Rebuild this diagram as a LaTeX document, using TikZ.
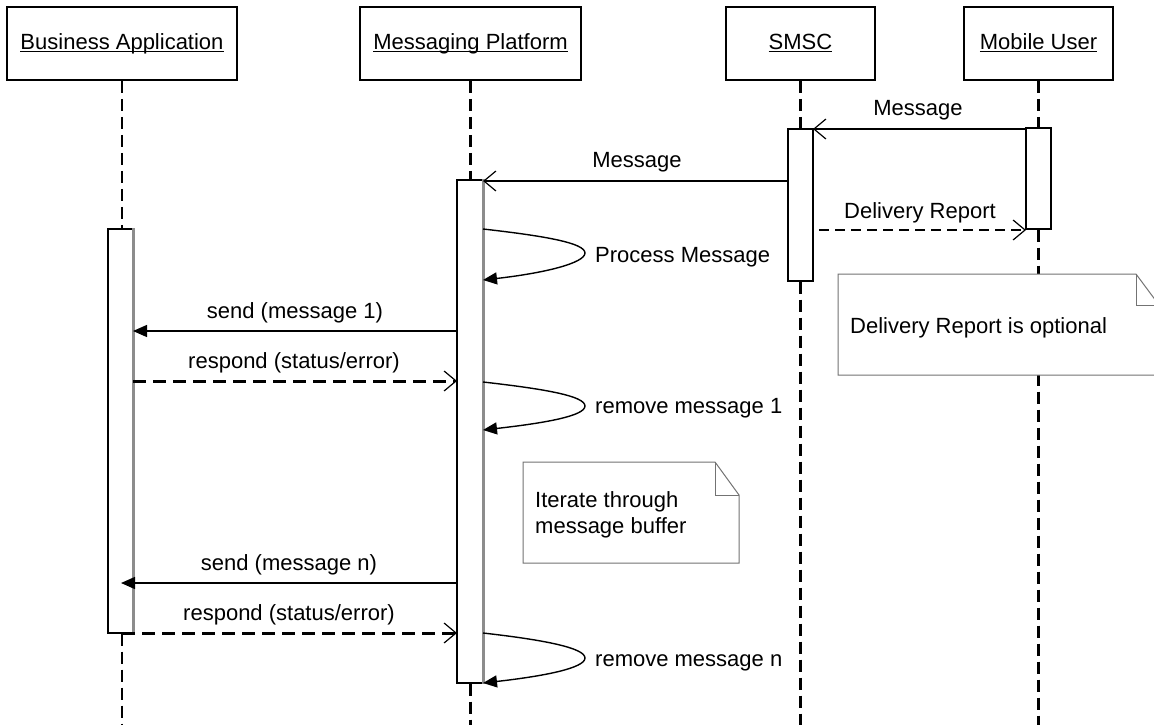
\documentclass[tikz,border=0pt]{standalone}
\usepackage{fontspec}
\setmainfont{Liberation Sans}
\usetikzlibrary{arrows.meta}
\newcommand{\ulx}[1]{\setbox0\hbox{#1}\rlap{\rule[-3.2pt]{\wd0}{1.4pt}}\box0}
\begin{document}
\begin{tikzpicture}[x=1pt,y=-1pt,
  font=\fontsize{22pt}{26pt}\selectfont,
  head/.style={draw, line width=1.6pt, minimum height=73pt, inner sep=0pt, text height=16pt, text depth=5pt},
  bar/.style={draw, line width=1.3pt, fill=white, inner sep=0pt, minimum width=25pt},
  grayedge/.style={draw=black!45, line width=2.4pt},
  lifeline/.style={line width=2.6pt, dash pattern=on 12pt off 6pt},
  msg/.style={line width=1.4pt},
  openarrow/.style={-{Straight Barb[length=12pt,width=20pt,line width=1.2pt]}},
  fillarrow/.style={-{Triangle[length=14pt,width=12pt]}},
  respond/.style={line width=3pt, dash pattern=on 13pt off 7pt, -{Straight Barb[length=12pt,width=20pt,line width=1.2pt]}},
  dlv/.style={line width=2.2pt, dash pattern=on 10pt off 6pt, -{Straight Barb[length=12pt,width=20pt,line width=1.2pt]}},
  notebox/.style={draw=black!55, line width=1pt, fill=white},
  lbl/.style={inner sep=0pt, anchor=base},
  lbll/.style={inner sep=0pt, anchor=base west}]

\useasboundingbox (0,0) rectangle (1154,725);
\fill[white] (0,0) rectangle (1154,725);
\coordinate (bot) at (0,725);

% header boxes
\node[head, minimum width=230pt] (ba) at (122,43.5) {\ulx{Business Application}};
\node[head, minimum width=221pt] (mp) at (470.5,43.5) {\ulx{Messaging Platform}};
\node[head, minimum width=149pt] (sm) at (800.5,43.5) {\ulx{SMSC}};
\node[head, minimum width=149pt] (mu) at (1038.5,43.5) {\ulx{Mobile User}};

% activation bars
\node[bar, minimum height=404pt] (babar) at (120.5,431) {};
\node[bar, minimum width=26pt, minimum height=503pt] (mpbar) at (470,431.5) {};
\node[bar, minimum height=152pt] (smbar) at (800.5,205) {};
\node[bar, minimum height=101pt] (mubar) at (1038.5,178.5) {};
\draw[grayedge] (babar.north east) -- (babar.south east);
\draw[grayedge] (mpbar.north east) -- (mpbar.south east);

% lifelines
\draw[lifeline] (ba.south) -- (ba.south |- babar.north);
\draw[lifeline] (ba.south |- babar.south) -- (ba.south |- bot);
\draw[lifeline] (mp.south) -- (mp.south |- mpbar.north);
\draw[lifeline] (mp.south |- mpbar.south) -- (mp.south |- bot);
\draw[lifeline] (sm.south) -- (sm.south |- smbar.north);
\draw[lifeline] (sm.south |- smbar.south) -- (sm.south |- bot);
\draw[lifeline] (mu.south) -- (mu.south |- mubar.north);
\draw[lifeline] (mu.south |- mubar.south) -- (mu.south |- bot);

% message end points
\coordinate (m1s) at (1026,129);  \coordinate (m1e) at (813,129);
\coordinate (m2s) at (788,181);   \coordinate (m2e) at (483,181);
\coordinate (m3s) at (819,230);   \coordinate (m3e) at (1026,230);
\coordinate (l1s) at (483,229);   \coordinate (l1m) at (585,253); \coordinate (l1e) at (483,280);
\coordinate (s1s) at (457,331);   \coordinate (s1e) at (133,331);
\coordinate (r1s) at (133,381);   \coordinate (r1e) at (457,381);
\coordinate (l2s) at (483,382);   \coordinate (l2m) at (585,406); \coordinate (l2e) at (483,430);
\coordinate (s2s) at (457,583);   \coordinate (s2e) at (121,583);
\coordinate (r2s) at (122,633);   \coordinate (r2e) at (457,633);
\coordinate (l3s) at (483,633);   \coordinate (l3m) at (585,658); \coordinate (l3e) at (483,683);

% messages
\draw[msg, openarrow] (m1s) -- (m1e);
\draw[msg, openarrow] (m2s) -- (m2e);
\draw[dlv] (m3s) -- (m3e);
\draw[msg, fillarrow] (l1s) .. controls (545,236) and (585,243) .. (l1m) .. controls (585,263) and (545,273) .. (l1e);
\draw[msg, fillarrow] (s1s) -- (s1e);
\draw[respond] (r1s) -- (r1e);
\draw[msg, fillarrow] (l2s) .. controls (545,389) and (585,396) .. (l2m) .. controls (585,416) and (545,423) .. (l2e);
\draw[msg, fillarrow] (s2s) -- (s2e);
\draw[respond] (r2s) -- (r2e);
\draw[msg, fillarrow] (l3s) .. controls (545,640) and (585,648) .. (l3m) .. controls (585,668) and (545,676) .. (l3e);

% labels
\node[lbl] (t1) at (918,115) {Message};
\node[lbl] (t2) at (637,167) {Message};
\node[lbl] (t3) at (920,218) {Delivery Report};
\node[lbll] (t4) at (595,262) {Process Message};
\node[lbl] (t5) at (295,318) {send (message 1)};
\node[lbl] (t6) at (294,368) {respond (status/error)};
\node[lbll] (t7) at (595,413) {remove message 1};
\node[lbl] (t8) at (289,570) {send (message n)};
\node[lbl] (t9) at (289,620) {respond (status/error)};
\node[lbll] (t10) at (595,666) {remove message n};

% notes
\draw[notebox] (838,274) -- (1136,274) -- (1159,305) -- (1159,375) -- (838,375) -- cycle;
\draw[notebox, fill=none] (1136,274) -- (1136,305) -- (1159,305);
\node[lbll] (n1) at (850,333) {Delivery Report is optional};

\draw[notebox] (523,462) -- (715,462) -- (739,495) -- (739,563) -- (523,563) -- cycle;
\draw[notebox, fill=none] (715,462) -- (715,495) -- (739,495);
\node[lbll] (n2a) at (535,507) {Iterate through};
\node[lbll] (n2b) at (535,533) {message buffer};

\end{tikzpicture}
\end{document}
